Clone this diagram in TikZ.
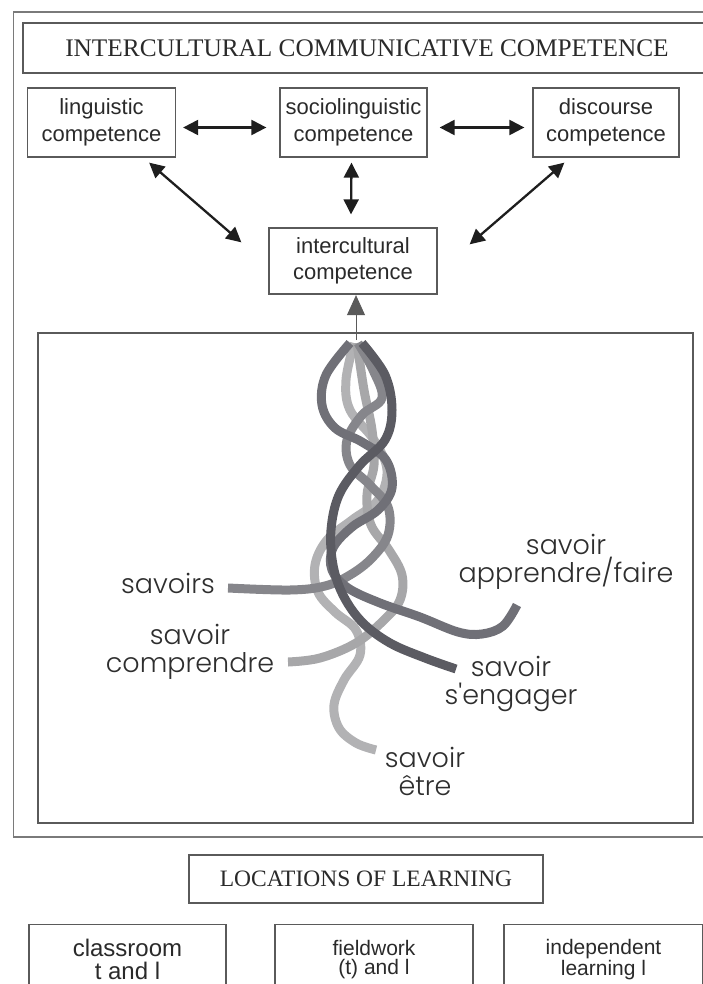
\documentclass[tikz,border=0pt]{standalone}
\usepackage{fontspec}
\setmainfont{Liberation Serif}
\setsansfont{Liberation Sans}
\newfontfamily\geo{Poppins}[UprightFont=* Light]
\usetikzlibrary{arrows.meta}
\definecolor{boxgray}{HTML}{5A5A5A}
\definecolor{framegray}{HTML}{7A7A7A}
\definecolor{arrowgray}{HTML}{1E1E1E}
\definecolor{textgray}{HTML}{2A2A2A}
\definecolor{labgray}{HTML}{2E2E2E}
\definecolor{sA}{HTML}{5B5B62}
\definecolor{sB}{HTML}{707077}
\definecolor{sC}{HTML}{86868B}
\definecolor{sD}{HTML}{A7A7A9}
\definecolor{sE}{HTML}{B2B2B4}
\tikzset{
  box/.style={draw=boxgray, line width=1.3pt, inner sep=0pt, align=center,
    font=\sffamily\fontsize{22}{27}\selectfont, text=textgray},
  titlebox/.style={box, font=\rmfamily\fontsize{25.3}{27}\selectfont},
  dbl/.style={draw=arrowgray, line width=2.3pt,
    {Triangle[length=15pt,width=15pt]}-{Triangle[length=15pt,width=15pt]}},
  strand/.style={line width=9pt, line cap=butt, line join=round},
  lab/.style={font=\geo\fontsize{27}{28}\selectfont, text=labgray, inner sep=0pt, align=center}
}
\begin{document}
\begin{tikzpicture}[x=1pt,y=-1pt]
\useasboundingbox (0,0) rectangle (703,984);
% outer frame
\draw[framegray, line width=1.3pt] (13.5,12) rectangle (715,837);
% title
\node[titlebox, minimum width=690pt, minimum height=50pt] (title) at (368,48) {};
\node[font=\rmfamily\fontsize{25.3}{27}\selectfont, text=textgray] (titletext) at (367,48) {INTERCULTURAL COMMUNICATIVE COMPETENCE};
% competence boxes
\node[box, minimum width=148pt, minimum height=69pt] (ling) at (101.5,122.5) {linguistic\\competence};
\node[box, minimum width=147pt, minimum height=69pt] (socio) at (353.5,122.5) {sociolinguistic\\competence};
\node[box, minimum width=146pt, minimum height=69pt] (disc) at (606,122.5) {discourse\\competence};
\node[box, font=\sffamily\fontsize{22}{26}\selectfont, minimum width=168pt, minimum height=66pt] (inter) at (353,261) {intercultural\\competence};
% arrows
\draw[dbl] ([shift={(7pt,-5pt)}]ling.east) -- ([shift={(-13pt,-5pt)}]socio.west);
\draw[dbl] ([shift={(12pt,-5pt)}]socio.east) -- ([shift={(-8pt,-5pt)}]disc.west);
\draw[dbl] ([shift={(-2pt,-5pt)}]socio.south) -- ([shift={(-2pt,13pt)}]inter.north);
\draw[dbl] ([shift={(-27pt,-5pt)}]ling.south east) -- ([shift={(-27pt,-15pt)}]inter.north west);
\draw[dbl] ([shift={(32pt,-5pt)}]disc.south west) -- ([shift={(32pt,-17pt)}]inter.north east);
% inner box
\node[draw=boxgray, line width=1.3pt, minimum width=655pt, minimum height=490pt, inner sep=0pt] (inner) at (365.5,578) {};
\coordinate (btop) at (356,340);
\draw[boxgray, line width=0.8pt, -{Triangle[length=20pt,width=18pt]}, shorten >=0.5pt] (btop) -- (btop |- inter.south);
% braid strands
\draw[strand, sE] plot[smooth, tension=0.6] coordinates {(354,343) (346,380) (350,410) (374,440) (387,470) (378,500) (352,520) (327,540) (315,565) (318,592) (335,612) (356,630) (360,655) (344,680) (334,705) (339,728) (356,743) (376,750)};
\draw[strand, sD] plot[smooth, tension=0.6] coordinates {(357,343) (364,390) (372,430) (374,465) (367,495) (371,525) (389,550) (402,575) (400,600) (384,620) (356,643) (320,658) (288,662)};
\draw[strand, sC] plot[smooth, tension=0.6] coordinates {(358,343) (373,370) (382,398) (362,415) (347,440) (350,465) (370,485) (388,507) (388,535) (372,558) (350,575) (325,586) (290,590) (228,588)};
\draw[strand, sB] plot[smooth, tension=0.6] coordinates {(350,343) (326,375) (322,405) (335,428) (362,442) (386,460) (392,488) (378,510) (352,527) (333,548) (332,570) (348,588) (380,603) (420,617) (458,632) (482,634) (503,626) (517,605)};
\draw[strand, sA] plot[smooth, tension=0.6] coordinates {(362,343) (385,375) (392,410) (385,440) (360,465) (339,495) (331,530) (333,565) (343,595) (362,622) (390,643) (425,658) (456,669)};
% labels
\node[lab] (l1) at (168,583) {savoirs};
\node[lab] (l2) at (566,562) {savoir\\apprendre/faire};
\node[lab] (l3) at (190,652) {savoir\\comprendre};
\node[lab] (l4) at (511,684) {savoir\\s'engager};
\node[lab] (l5) at (425,771) {savoir\\être};
% locations
\node[titlebox, font=\rmfamily\fontsize{23.5}{25}\selectfont, minimum width=354pt, minimum height=48pt] (loc) at (366,879) {LOCATIONS OF LEARNING};
\node[box, font=\sffamily\fontsize{24}{23}\selectfont, minimum width=197pt, minimum height=70pt, anchor=north] (class) at (127.5,924) {classroom\\t and l};
\node[box, font=\sffamily\fontsize{21}{19}\selectfont, minimum width=198pt, minimum height=70pt, anchor=north] (field) at (374,924) {fieldwork\\(t) and l};
\node[box, font=\sffamily\fontsize{21}{21}\selectfont, minimum width=199pt, minimum height=70pt, anchor=north] (indep) at (603.5,924) {independent\\learning l};
\end{tikzpicture}
\end{document}
